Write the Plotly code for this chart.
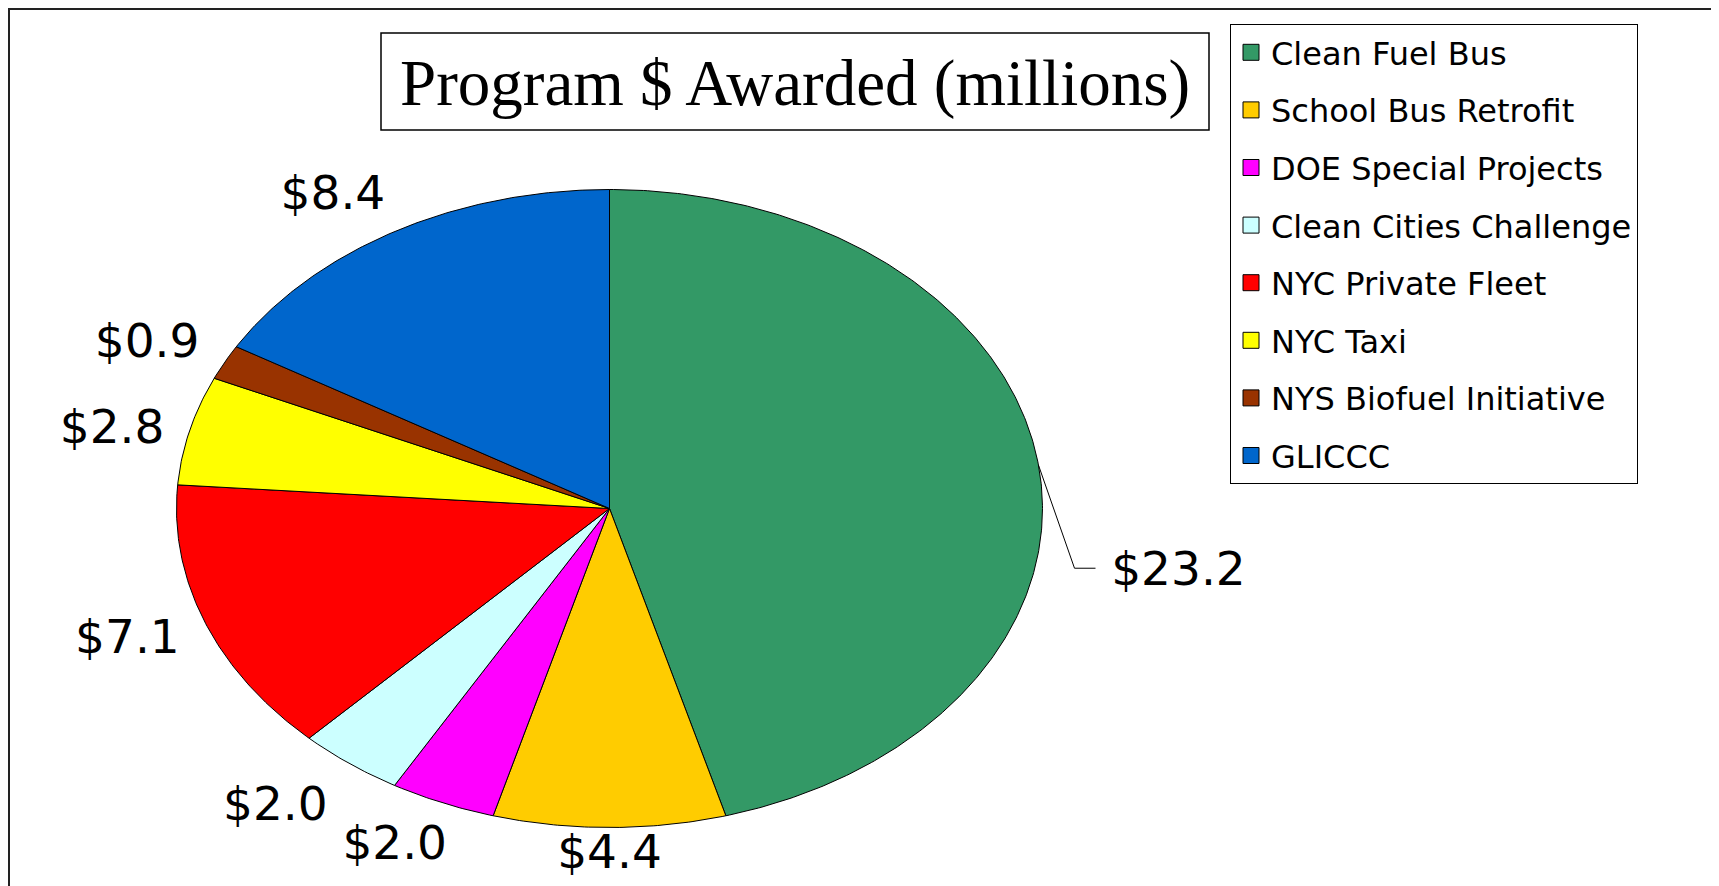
import numpy as np
import plotly.graph_objects as go

# ---- data ----
categories = ["Clean Fuel Bus", "School Bus Retrofit", "DOE Special Projects",
              "Clean Cities Challenge", "NYC Private Fleet", "NYC Taxi",
              "NYS Biofuel Initiative", "GLICCC"]
values = [23.2, 4.4, 2.0, 2.0, 7.1, 2.8, 0.9, 8.4]
colors = ["#339966", "#FFCC00", "#FF00FF", "#CCFFFF", "#FF0000", "#FFFF00",
          "#993300", "#0066CC"]
title_text = "Program $ Awarded (millions)"

# ---- geometry (page pixel space; page has an 8px body margin) ----
W, H = 1719, 886
OFF = 8
CX, CY, RX, RY = 609.5, 508.5, 433.0, 319.0
LABEL_FS = 47

total = float(sum(values))
cum = np.concatenate([[0.0], np.cumsum(values)]) / total * 2 * np.pi


def ell(t, k=1.0):
    return CX + k * RX * np.sin(t), CY - k * RY * np.cos(t)


fig = go.Figure()

# slices
for i, (cat, v, c) in enumerate(zip(categories, values, colors)):
    n = max(int((cum[i + 1] - cum[i]) / (2 * np.pi) * 720), 4)
    t = np.linspace(cum[i], cum[i + 1], n)
    ex, ey = ell(t)
    xs = [CX] + list(ex) + [CX]
    ys = [CY] + list(ey) + [CY]
    fig.add_trace(go.Scatter(x=xs, y=ys, mode="lines", fill="toself",
                             fillcolor=c, line=dict(color="black", width=1),
                             showlegend=False, hoverinfo="skip"))

# labels
lab_x, lab_y, lab_t = [], [], []
for i, v in enumerate(values):
    txt = f"${v:.1f}"
    mid = (cum[i] + cum[i + 1]) / 2
    px, py = ell(mid)
    w = len(txt) * 0.57 * LABEL_FS
    h = 0.82 * LABEL_FS
    if i == 0:
        ex_, ey_ = px + 36, py + 103
        fx_, fy_ = ex_ + 21, ey_
        fig.add_trace(go.Scatter(x=[px, ex_, fx_], y=[py, ey_, fy_], mode="lines",
                                 line=dict(color="black", width=1),
                                 showlegend=False, hoverinfo="skip"))
        cx_, cy_ = fx_ + 16 + w / 2, fy_
    else:
        sx = np.clip(np.sin(mid) * 1.6, -1, 1)
        cy_dir = -np.cos(mid)
        sy = np.sign(cy_dir) * np.clip((abs(cy_dir) - 0.2) * 2.2, 0, 1)
        cx_ = px + sx * (w / 2 + 24)
        cy_ = py + sy * (h / 2 + 20)
        cy_ = min(cy_, 851)
    lab_x.append(cx_)
    lab_y.append(cy_ + 5)
    lab_t.append(txt)

fig.add_trace(go.Scatter(x=lab_x, y=lab_y, text=lab_t, mode="text",
                         textposition="middle center",
                         textfont=dict(family="DejaVu Sans", size=LABEL_FS, color="black"),
                         showlegend=False, hoverinfo="skip"))

# legend entries
for cat, c in zip(categories, colors):
    fig.add_trace(go.Scatter(x=[None], y=[None], mode="markers", name=cat,
                             legendgroup=cat,
                             marker=dict(symbol="square", size=16, color=c,
                                         line=dict(color="black", width=1))))

# frame and title box
fig.add_shape(type="rect", xref="x", yref="y", x0=9, y0=9, x1=W + 40, y1=H + 40,
              line=dict(color="#222222", width=2), fillcolor="rgba(0,0,0,0)", layer="below")
fig.add_shape(type="rect", xref="x", yref="y", x0=381, y0=33, x1=1209, y1=130,
              line=dict(color="black", width=1.5), fillcolor="white", layer="below")
fig.add_annotation(x=795, y=83, xref="x", yref="y", text=title_text, showarrow=False,
                   font=dict(family="Liberation Serif", size=65, color="black"),
                   xanchor="center", yanchor="middle")

fig.update_layout(
    width=W, height=H,
    margin=dict(l=0, r=0, t=0, b=0),
    paper_bgcolor="white", plot_bgcolor="white",
    xaxis=dict(range=[OFF, W + OFF], visible=False, fixedrange=True),
    yaxis=dict(range=[H + OFF, OFF], visible=False, fixedrange=True),
    showlegend=True,
    legend=dict(x=(1230 - OFF) / W, y=1 - (24 - OFF) / H, xanchor="left", yanchor="top",
                bordercolor="black", borderwidth=1, bgcolor="white",
                font=dict(family="DejaVu Sans", size=32, color="black"),
                tracegroupgap=13, itemsizing="trace"),
    hovermode=False,
)

fig.write_html("out.html")
